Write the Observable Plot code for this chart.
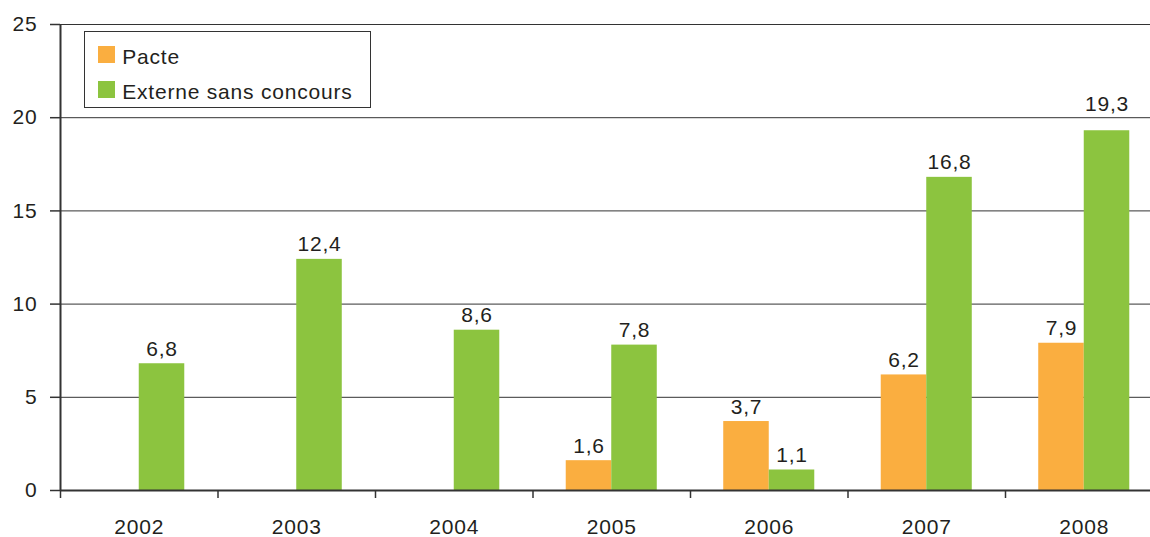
<!DOCTYPE html>
<html>
<head>
<meta charset="utf-8">
<script src="https://cdn.jsdelivr.net/npm/d3@7"></script>
<script src="https://cdn.jsdelivr.net/npm/@observablehq/plot@0.6"></script>
<style>
  body { margin: 0; background: #fff; }
  #wrap { position: relative; width: 1150px; height: 537px; }
  #wrap svg text { letter-spacing: 0.8px; font-size: 21px; }
  .legend { position: absolute; left: 84px; top: 31px; width: 287px; height: 77px;
    box-sizing: border-box; border: 1.5px solid #333; background: #fff;
    font-family: "Liberation Sans", Arial, sans-serif; font-size: 21px; color: #231f20; letter-spacing: 0.8px; }
  .legend .sw { position: absolute; width: 17px; height: 17px; left: 12.8px; }
  .legend .lb { position: absolute; left: 37.2px; line-height: 21px; white-space: nowrap; }
</style>
</head>
<body>
<div id="wrap"></div>
<script>
const years = [2002, 2003, 2004, 2005, 2006, 2007, 2008];
const pacte = [null, null, null, 1.6, 3.7, 6.2, 7.9];
const externe = [6.8, 12.4, 8.6, 7.8, 1.1, 16.8, 19.3];
const seriesNames = ["Pacte", "Externe sans concours"];
const seriesColors = ["#FAAE40", "#8CC43F"];
const yTicks = [0, 5, 10, 15, 20, 25];

const bw = 0.289; // bar width in group units
const fmt = v => d3.format(".1f")(v).replace(".", ",");

const pacteData = years.map((year, i) => ({year, value: pacte[i], cx: year - bw / 2})).filter(d => d.value != null);
const externeData = years.map((year, i) => ({year, value: externe[i], cx: year + bw / 2})).filter(d => d.value != null);
const allLabels = pacteData.concat(externeData);
// labels that would collide with a gridline are lifted above it
const liftTick = v => yTicks.find(t => t > v && t - v < 0.9);
const normalLabels = allLabels.filter(d => liftTick(d.value) === undefined);
const liftedLabels = allLabels.filter(d => liftTick(d.value) !== undefined).map(d => ({...d, ly: liftTick(d.value)}));

const xStart = years[0] - 0.5;
const boundaries = years.map(y => y - 0.5);

const ink = "#333";
const txt = "#231f20";
const fs = 21;
const plot = Plot.plot({
  width: 1150,
  height: 537,
  marginLeft: 60,
  marginRight: 0,
  marginTop: 24,
  marginBottom: 47,
  style: { fontFamily: "'Liberation Sans', Arial, sans-serif", fontSize: "21px", color: txt, background: "#fff" },
  x: { type: "linear", domain: [xStart, years[years.length - 1] + 0.5], range: [60, 1162.5] },
  y: { domain: [0, 25] },
  marks: [
    Plot.gridY({ ticks: yTicks.filter(t => t > 0), stroke: ink, strokeOpacity: 1, strokeWidth: 1 }),
    Plot.rect(pacteData, { x1: d => d.year - bw, x2: d => d.year, y1: 0, y2: "value", fill: seriesColors[0] }),
    Plot.rect(externeData, { x1: d => d.year, x2: d => d.year + bw, y1: 0, y2: "value", fill: seriesColors[1] }),
    Plot.text(normalLabels, { x: "cx", y: "value", text: d => fmt(d.value), lineAnchor: "bottom", dy: -8, fill: txt, fontSize: fs }),
    Plot.text(liftedLabels, { x: "cx", y: "ly", text: d => fmt(d.value), lineAnchor: "bottom", dy: -7, fill: txt, fontSize: fs }),
    Plot.ruleY([0], { stroke: ink, strokeWidth: 2 }),
    Plot.ruleX([xStart], { stroke: ink, strokeWidth: 2 }),
    Plot.axisY({ ticks: yTicks, tickSize: 10, tickPadding: 13, label: null, stroke: ink, strokeWidth: 1.5, fontSize: fs, fill: txt }),
    Plot.axisX({ ticks: boundaries, tickSize: 8, tickFormat: () => "", label: null, stroke: ink, strokeWidth: 1.5 }),
    Plot.axisX({ ticks: years, tickSize: 0, tickPadding: 29, tickFormat: d => String(d), label: null, fontSize: fs, fill: txt })
  ]
});

const wrap = document.getElementById("wrap");
wrap.appendChild(plot);

const legend = document.createElement("div");
legend.className = "legend";
const tops = [14.2, 49.2];
const textTops = [13.7, 48.7];
seriesNames.forEach((name, i) => {
  const sw = document.createElement("div");
  sw.className = "sw";
  sw.style.top = tops[i] + "px";
  sw.style.background = seriesColors[i];
  const lb = document.createElement("div");
  lb.className = "lb";
  lb.style.top = textTops[i] + "px";
  lb.textContent = name;
  legend.appendChild(sw);
  legend.appendChild(lb);
});
wrap.appendChild(legend);
</script>
</body>
</html>
